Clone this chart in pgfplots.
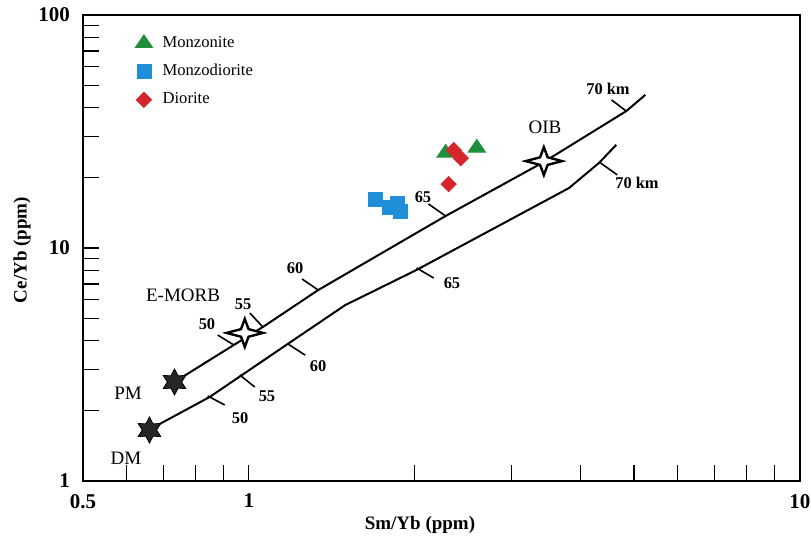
\documentclass[border=0pt]{standalone}
\usepackage{pgfplots}
\pgfplotsset{compat=1.18}
\usepackage{fontspec}
\setmainfont{Liberation Serif}
\definecolor{mgreen}{RGB}{31,143,58}
\definecolor{mblue}{RGB}{30,143,216}
\definecolor{mred}{RGB}{214,38,43}
\pgfdeclareplotmark{fourstar}{%
 \pgfpathmoveto{\pgfpoint{1.3\pgfplotmarksize}{0pt}}%
 \pgfpathlineto{\pgfpoint{0.27\pgfplotmarksize}{0.27\pgfplotmarksize}}%
 \pgfpathlineto{\pgfpoint{0pt}{\pgfplotmarksize}}%
 \pgfpathlineto{\pgfpoint{-0.27\pgfplotmarksize}{0.27\pgfplotmarksize}}%
 \pgfpathlineto{\pgfpoint{-1.3\pgfplotmarksize}{0pt}}%
 \pgfpathlineto{\pgfpoint{-0.27\pgfplotmarksize}{-0.27\pgfplotmarksize}}%
 \pgfpathlineto{\pgfpoint{0pt}{-\pgfplotmarksize}}%
 \pgfpathlineto{\pgfpoint{0.27\pgfplotmarksize}{-0.27\pgfplotmarksize}}%
 \pgfpathclose
 \pgfusepathqfillstroke}
\pgfdeclareplotmark{hexstar}{%
 \pgfpathmoveto{\pgfpoint{0pt}{\pgfplotmarksize}}%
 \pgfpathlineto{\pgfpoint{-0.275\pgfplotmarksize}{0.476\pgfplotmarksize}}%
 \pgfpathlineto{\pgfpoint{-0.866\pgfplotmarksize}{0.5\pgfplotmarksize}}%
 \pgfpathlineto{\pgfpoint{-0.55\pgfplotmarksize}{0pt}}%
 \pgfpathlineto{\pgfpoint{-0.866\pgfplotmarksize}{-0.5\pgfplotmarksize}}%
 \pgfpathlineto{\pgfpoint{-0.275\pgfplotmarksize}{-0.476\pgfplotmarksize}}%
 \pgfpathlineto{\pgfpoint{0pt}{-\pgfplotmarksize}}%
 \pgfpathlineto{\pgfpoint{0.275\pgfplotmarksize}{-0.476\pgfplotmarksize}}%
 \pgfpathlineto{\pgfpoint{0.866\pgfplotmarksize}{-0.5\pgfplotmarksize}}%
 \pgfpathlineto{\pgfpoint{0.55\pgfplotmarksize}{0pt}}%
 \pgfpathlineto{\pgfpoint{0.866\pgfplotmarksize}{0.5\pgfplotmarksize}}%
 \pgfpathlineto{\pgfpoint{0.275\pgfplotmarksize}{0.476\pgfplotmarksize}}%
 \pgfpathclose
 \pgfusepathqfillstroke}
\newcommand{\tlab}{\bfseries\fontsize{8.2}{9}\selectfont}
\newcommand{\nlab}{\fontsize{9.5}{11}\selectfont}
\begin{document}
\begin{tikzpicture}
\begin{axis}[
 xmode=log, ymode=log,
 scale only axis, width=358.5pt, height=233pt,
 xmin=0.5, xmax=10, ymin=1, ymax=100,
 xtick={0.5,1,10}, xticklabels={0.5,1,10},
 ytick={1,10,100}, yticklabels={1,10,100},
 minor xtick={0.6,0.7,0.8,0.9,2,3,4,5,6,7,8,9},
 minor ytick={2,3,4,5,6,7,8,9,20,30,40,50,60,70,80,90},
 xtick pos=bottom, ytick pos=left, tick align=inside,
 major tick length=8pt, minor tick length=8pt,
 tick style={black, line width=0.6pt},
 axis line style={line width=1pt},
 /pgf/number format/assume math mode=true,
 ticklabel style={font=\bfseries\fontsize{10.5}{12}\selectfont},
 xticklabel style={yshift=-3pt},
 yticklabel style={xshift=-3pt},
 xlabel={Sm/Yb (ppm)}, ylabel={Ce/Yb (ppm)},
 label style={font=\bfseries\fontsize{9.5}{11}\selectfont},
 xlabel style={at={(axis description cs:0.47,-0.0944)}, anchor=center},
 ylabel style={at={(axis description cs:-0.0851,0.4957)}, anchor=center, rotate=0},
 legend image code/.code={\draw[#1] plot coordinates {(0pt,0pt)};},
 legend style={at={(axis description cs:0.064,0.968)}, anchor=north west, draw=none, fill=none,
   font=\fontsize{8.3}{10}\selectfont, row sep=5pt, column sep=4pt, nodes={inner sep=1pt}},
 legend cell align=left,
]
% samples
\addplot[only marks, mark=triangle*, mark size=5pt, color=mgreen, mark options={yscale=0.85}]
 coordinates {(2.275,25.6) (2.592,26.9)};
\addlegendentry{Monzonite}
\addplot[only marks, mark=square*, mark size=3.5pt, color=mblue]
 coordinates {(1.696,16.2) (1.799,15.0) (1.861,15.6) (1.884,14.3)};
\addlegendentry{Monzodiorite}
\addplot[only marks, mark=square*, mark size=2.7pt, color=mred, mark options={rotate=45}]
 coordinates {(2.353,26.3) (2.423,24.3) (2.304,18.8)};
\addlegendentry{Diorite}
% melting curves
\addplot[forget plot, black, line width=1pt] coordinates {
 (0.742,2.71) (0.939,3.835) (1.060,4.58) (1.336,6.60) (2.275,13.72) (3.43,23.4) (4.84,38.7) (5.24,45.4)};
\addplot[forget plot, black, line width=1pt] coordinates {
 (0.668,1.689) (0.849,2.294) (1.183,3.91) (1.496,5.69) (2.015,8.05) (3.81,18.09) (4.32,23.2) (4.64,27.7)};
% depth ticks upper
\addplot[forget plot, black, line width=0.8pt] coordinates {(0.878,4.23) (0.939,3.835)};
\addplot[forget plot, black, line width=0.8pt] coordinates {(1.004,5.26) (1.060,4.58)};
\addplot[forget plot, black, line width=0.8pt] coordinates {(1.249,7.36) (1.336,6.60)};
\addplot[forget plot, black, line width=0.8pt] coordinates {(2.118,15.45) (2.275,13.72)};
\addplot[forget plot, black, line width=0.8pt] coordinates {(4.55,43.2) (4.84,38.7)};
% depth ticks lower
\addplot[forget plot, black, line width=0.8pt] coordinates {(0.842,2.317) (0.904,2.12)};
\addplot[forget plot, black, line width=0.8pt] coordinates {(0.963,2.85) (1.025,2.53)};
\addplot[forget plot, black, line width=0.8pt] coordinates {(1.178,3.87) (1.265,3.47)};
\addplot[forget plot, black, line width=0.8pt] coordinates {(2.015,8.21) (2.165,7.43)};
\addplot[forget plot, black, line width=0.8pt] coordinates {(4.32,23.4) (4.66,20.6)};
% reservoirs
\addplot[forget plot, only marks, mark=hexstar, mark size=6.5pt, draw=black, fill=black!85]
 coordinates {(0.733,2.66) (0.660,1.655)};
\addplot[forget plot, only marks, mark=fourstar, mark size=7pt, mark options={draw=black, fill=white, line width=1.2pt}]
 coordinates {(0.983,4.32) (3.43,23.6)};
% labels
\node[font=\nlab] at (axis description cs:0.6444,0.7597) {OIB};
\node[font=\nlab] at (axis description cs:0.1395,0.3991) {E-MORB};
\node[font=\nlab] at (axis description cs:0.0628,0.1888) {PM};
\node[font=\nlab] at (axis description cs:0.0600,0.0494) {DM};
\node[font=\tlab] at (axis description cs:0.1729,0.3369) {50};
\node[font=\tlab] at (axis description cs:0.2232,0.3798) {55};
\node[font=\tlab] at (axis description cs:0.2957,0.4571) {60};
\node[font=\tlab] at (axis description cs:0.4742,0.6094) {65};
\node[font=\tlab] at (axis description cs:0.7322,0.8412) {70 km};
\node[font=\tlab] at (axis description cs:0.2190,0.1352) {50};
\node[font=\tlab] at (axis description cs:0.2566,0.1824) {55};
\node[font=\tlab] at (axis description cs:0.3278,0.2468) {60};
\node[font=\tlab] at (axis description cs:0.5146,0.4249) {65};
\node[font=\tlab] at (axis description cs:0.7727,0.6395) {70 km};
\end{axis}
\pgfresetboundingbox
\path ([shift={(-41.5pt,-29pt)}]current axis.south west) rectangle ([shift={(5.5pt,7.5pt)}]current axis.north east);
\end{tikzpicture}
\end{document}
